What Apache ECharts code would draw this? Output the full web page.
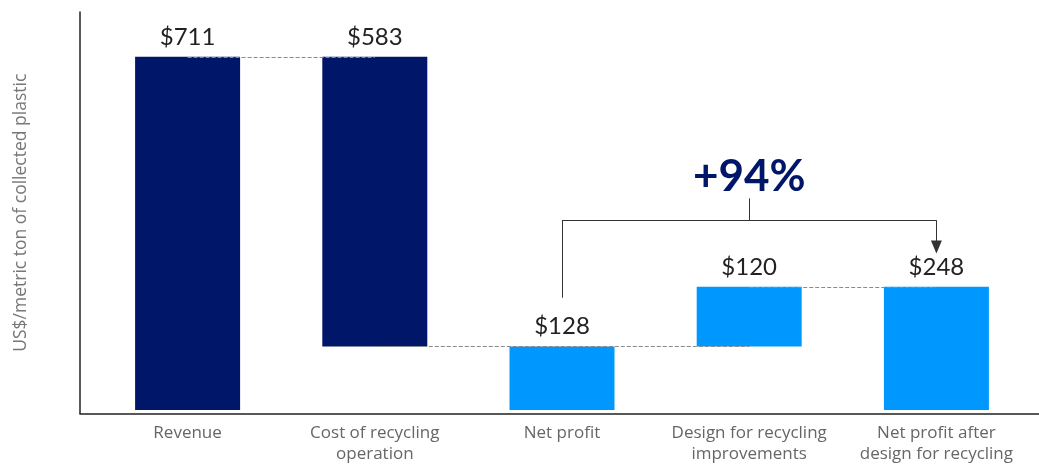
<!DOCTYPE html>
<html>
<head>
<meta charset="utf-8">
<script src="https://cdn.jsdelivr.net/npm/echarts@6/dist/echarts.min.js"></script>
<style>
  html, body { margin: 0; padding: 0; background: #fff; }
  #chart { width: 1039px; height: 465px; }
</style>
</head>
<body>
<div id="chart"></div>
<script>
// waterfall data
var categories = ['Revenue', 'Cost of recycling\noperation', 'Net profit', 'Design for recycling\nimprovements', 'Net profit after\ndesign for recycling'];
var baseValues = [0, 128, 0, 128, 0];
var stepValues = [711, 583, 128, 120, 248];
var barColors = ['#001669', '#001669', '#0098fe', '#0098fe', '#0098fe'];
var changeLabel = '+94%';

var chart = echarts.init(document.getElementById('chart'));

var dash = { type: 'dashed', color: '#8a8a8a', width: 1 };
var dark = { type: 'solid', color: '#333', width: 1 };
// bracket from net profit to net profit after design
var bracketY = 382, bracketLow = 226, tipY = 328, tickTop = 426;

var option = {
    animation: false,
    grid: [
        { left: 94, right: 9, top: 12.6, bottom: 51.5 },
        { left: 80, right: 0, top: 12, bottom: 51.5 }
    ],
    xAxis: [
        {
            type: 'category',
            gridIndex: 0,
            data: categories,
            axisLine: { show: false },
            axisTick: { show: false },
            axisLabel: {
                interval: 0,
                hideOverlap: false,
                margin: 13,
                color: '#666',
                fontFamily: 'Open Sans',
                fontSize: 17,
                lineHeight: 21
            }
        },
        {
            type: 'value',
            gridIndex: 1,
            min: 0, max: 1,
            axisLine: { show: true, onZero: false, lineStyle: { color: '#222', width: 1.5 } },
            axisTick: { show: false },
            axisLabel: { show: false },
            splitLine: { show: false }
        }
    ],
    yAxis: [
        {
            type: 'value',
            gridIndex: 0,
            min: 0, max: 800,
            axisLine: { show: false },
            axisTick: { show: false },
            axisLabel: { show: false },
            splitLine: { show: false }
        },
        {
            type: 'value',
            gridIndex: 1,
            min: 0, max: 1,
            name: 'US$/metric ton of collected plastic',
            nameLocation: 'middle',
            nameGap: 50,
            nameTextStyle: { color: '#777', fontFamily: 'Open Sans', fontSize: 17.5 },
            axisLine: { show: true, onZero: false, lineStyle: { color: '#222', width: 1.5 } },
            axisTick: { show: false },
            axisLabel: { show: false },
            splitLine: { show: false }
        }
    ],
    series: [
        {
            name: 'connectors',
            type: 'line',
            xAxisIndex: 0, yAxisIndex: 0,
            data: [],
            z: 1,
            markLine: {
                silent: true,
                symbol: 'none',
                label: { show: false },
                lineStyle: dash,
                data: [
                    [{ coord: [0, 711] }, { coord: [1, 711] }],
                    [{ coord: [1, 128] }, { coord: [3, 128] }],
                    [{ coord: [3, 248] }, { coord: [4, 248] }]
                ]
            }
        },
        {
            name: 'bracket',
            type: 'line',
            xAxisIndex: 0, yAxisIndex: 0,
            data: [],
            z: 5,
            markLine: {
                silent: true,
                symbol: 'none',
                symbolSize: [11, 13],
                label: { show: false },
                lineStyle: dark,
                data: [
                    [{ coord: [2, bracketLow] }, { coord: [2, bracketY] }],
                    [{ coord: [2, bracketY] }, { coord: [4, bracketY] }],
                    [{ coord: [4, bracketY] }, { coord: [4, tipY], symbol: 'triangle' }],
                    [{ coord: [3, bracketY] }, {
                        coord: [3, tickTop],
                        label: {
                            show: true,
                            position: 'end',
                            distance: 0,
                            formatter: changeLabel,
                            color: '#001669',
                            fontFamily: 'Lato',
                            fontWeight: 'bold',
                            fontSize: 44
                        }
                    }]
                ]
            }
        },
        {
            name: 'base',
            type: 'bar',
            stack: 'total',
            xAxisIndex: 0, yAxisIndex: 0,
            barWidth: 105,
            itemStyle: { color: 'transparent' },
            data: baseValues,
            z: 2
        },
        {
            name: 'value',
            type: 'bar',
            stack: 'total',
            xAxisIndex: 0, yAxisIndex: 0,
            barWidth: 105,
            z: 3,
            data: stepValues.map(function (v, i) {
                return { value: v, itemStyle: { color: barColors[i] } };
            }),
            label: {
                show: true,
                position: 'top',
                distance: 8,
                color: '#222',
                fontFamily: 'Lato',
                fontSize: 24,
                formatter: function (p) { return '$' + p.value; }
            }
        }
    ]
};
chart.setOption(option);
</script>
</body>
</html>
